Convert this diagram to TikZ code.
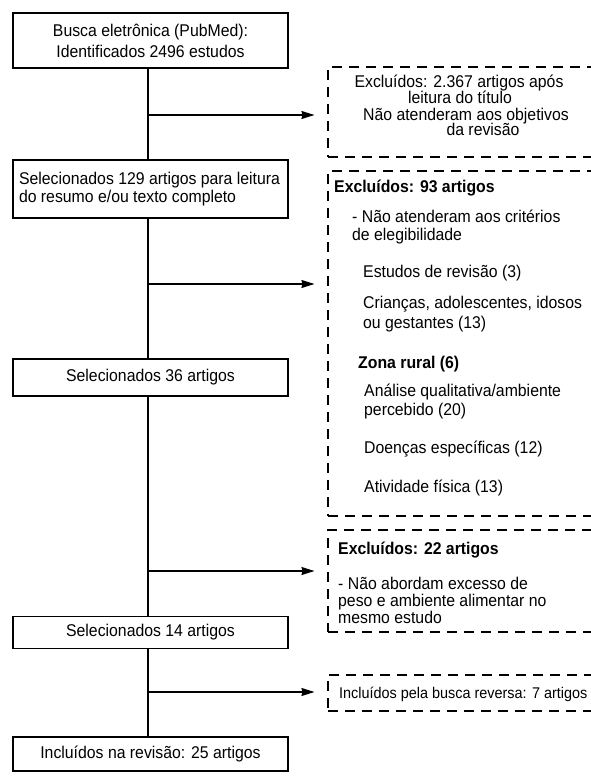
\documentclass[tikz,border=0pt]{standalone}
\usepackage{fontspec}
\setmainfont{Liberation Sans}[FakeStretch=0.93]
\usetikzlibrary{arrows.meta}
\begin{document}
\begin{tikzpicture}[x=1pt,y=-1pt,
  box/.style={draw, line width=1.1pt, minimum width=275pt, inner sep=0pt, align=center, font=\fontsize{17}{21}\selectfont},
  dbox/.style={draw, line width=1.1pt, dash pattern=on 10pt off 7pt, minimum width=302pt, inner sep=0pt},
  conn/.style={line width=1.1pt},
  arr/.style={line width=1.1pt, -{Stealth[length=13pt,width=8pt,inset=1pt]}, shorten >=13pt},
  txt/.style={anchor=base west, inner sep=0pt, font=\fontsize{17}{18}\selectfont},
  btxt/.style={txt, font=\fontsize{17}{18}\selectfont\bfseries},
  ctxt/.style={anchor=base, inner sep=0pt, font=\fontsize{17}{18}\selectfont},
]
\useasboundingbox (0,0) rectangle (590,776);
\coordinate (sp) at (148,0);

% main boxes
\node[box, minimum height=55pt] (b1) at (150.5,40.5) {Busca eletrônica (PubMed):\\Identificados 2496 estudos};
\node[box, minimum height=58pt, align=left, font=\fontsize{17}{18}\selectfont] (b2) at (150.5,189) {\makebox[263pt][l]{Selecionados 129 artigos para leitura}\\\makebox[263pt][l]{do resumo e/ou texto completo}};
\node[box, minimum height=37pt] (b3) at (150.5,377.5) {Selecionados 36 artigos};
\node[box, minimum height=32pt] (b4) at (150.5,632.5) {Selecionados 14 artigos};
\node[box, minimum height=34pt] (b5) at (150.5,754) {Incluídos na revisão: 25 artigos};

% dashed boxes (right side runs off the page)
\node[dbox, minimum height=90pt] (e1) at (479,112) {};
\node[dbox, minimum height=345pt] (e2) at (479,343.5) {};
\node[dbox, minimum height=102pt] (e3) at (479,581) {};
\node[dbox, minimum height=36pt] (e4) at (479,693) {};

% spine
\draw[conn] (b1.south -| sp) -- (b2.north -| sp);
\draw[conn] (b2.south -| sp) -- (b3.north -| sp);
\draw[conn] (b3.south -| sp) -- (b4.north -| sp);
\draw[conn] (b4.south -| sp) -- (b5.north -| sp);

% arrows
\coordinate (k1) at (0,115);
\coordinate (k2) at (0,284);
\coordinate (k3) at (0,571);
\coordinate (k4) at (0,692);
\draw[arr] (sp |- k1) -- (e1.west |- k1);
\draw[arr] (sp |- k2) -- (e2.west |- k2);
\draw[arr] (sp |- k3) -- (e3.west |- k3);
\draw[arr] (sp |- k4) -- (e4.west |- k4);

% texts of first dashed box
\node[ctxt] (t11) at (459,87.5) {Excluídos: 2.367 artigos após};
\node[ctxt] (t12) at (460,103) {leitura do título};
\node[ctxt] (t13) at (466,120) {Não atenderam aos objetivos};
\node[ctxt] (t14) at (483,135) {da revisão};

% texts of second dashed box
\node[btxt] (t21) at (334,192) {Excluídos: 93 artigos};
\node[txt] (t22) at (352,222) {- Não atenderam aos critérios};
\node[txt] (t23) at (352,240) {de elegibilidade};
\node[txt] (t24) at (363,277) {Estudos de revisão (3)};
\node[txt] (t25) at (363,308) {Crianças, adolescentes, idosos};
\node[txt] (t26) at (363,328) {ou gestantes (13)};
\node[btxt] (t27) at (358,368) {Zona rural (6)};
\node[txt] (t28) at (364,396) {Análise qualitativa/ambiente};
\node[txt] (t29) at (364,415) {percebido (20)};
\node[txt] (t2a) at (364,453) {Doenças específicas (12)};
\node[txt] (t2b) at (364,492) {Atividade física (13)};

% texts of third dashed box
\node[btxt] (t31) at (338,554) {Excluídos: 22 artigos};
\node[txt] (t32) at (338,589) {- Não abordam excesso de};
\node[txt] (t33) at (338,606) {peso e ambiente alimentar no};
\node[txt] (t34) at (338,623) {mesmo estudo};

% text of fourth dashed box
\node[txt, font=\fontsize{15.5}{18}\selectfont] (t41) at (339,698) {Incluídos pela busca reversa: 7 artigos};
\end{tikzpicture}
\end{document}
